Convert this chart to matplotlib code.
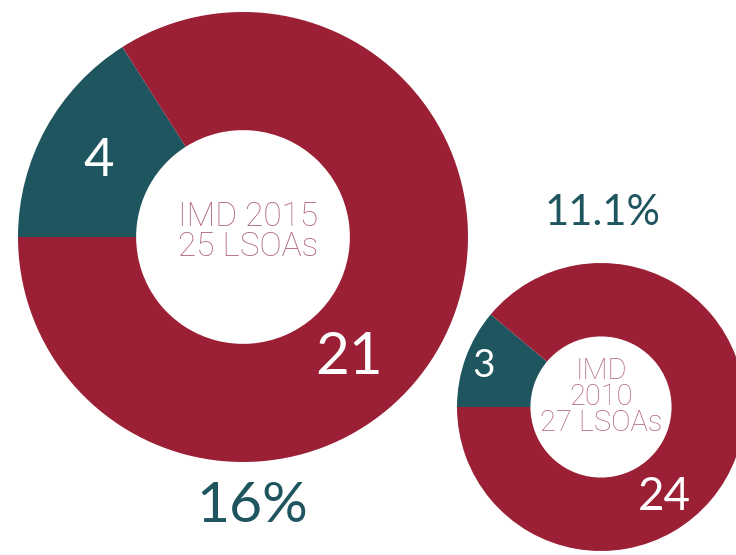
import matplotlib
matplotlib.use('Agg')
import matplotlib.pyplot as plt

# data
groups = ['IMD 2015', 'IMD 2010']
lsoas_2015 = [4, 21]
lsoas_2010 = [3, 24]
centre_2015 = 'IMD 2015\n25 LSOAs'
centre_2010 = 'IMD\n2010\n27 LSOAs'
pct_2015 = '16%'
pct_2010 = '11.1%'

RED = '#9b1f35'
TEAL = '#1f555e'
PINK = '#b06878'

W, H = 736, 555

fig = plt.figure(figsize=(W / 100, H / 100), dpi=100)
ax = fig.add_axes([0, 0, 1, 1])


def py(y):
    # picture rows run downwards, axes upwards
    return H - y


def donut(values, cx, cy, r, hole):
    ax.pie(values, colors=[TEAL, RED], startangle=180, counterclock=False,
           center=(cx, py(cy)), radius=r,
           wedgeprops=dict(width=r * (1 - hole), edgecolor='none', linewidth=0))


donut(lsoas_2015, 243, 237, 225, 0.475)
donut(lsoas_2010, 601, 407, 144, 0.49)

ax.set_xlim(0, W)
ax.set_ylim(0, H)
ax.set_aspect('auto')
ax.axis('off')

num = dict(color='white', ha='center', va='center', family='Lato')
thin = dict(color=PINK, ha='center', va='center', family='Roboto',
            fontweight='light')

# big donut
ax.text(99, py(161), str(lsoas_2015[0]), fontsize=38, **num)
ax.text(349, py(357), str(lsoas_2015[1]), fontsize=42, **num)
ax.text(248, py(232), centre_2015, fontsize=24, linespacing=0.95, **thin)
ax.text(252, py(507), pct_2015, fontsize=41, color=TEAL, ha='center',
        va='center', family='Lato')

# small donut
ax.text(601, py(397), centre_2010, fontsize=21, linespacing=0.92, **thin)
ax.text(484, py(366), str(lsoas_2010[0]), fontsize=28, **num)
ax.text(664, py(497), str(lsoas_2010[1]), fontsize=33, **num)
ax.text(603, py(213), pct_2010, fontsize=30, color=TEAL, ha='center',
        va='center', family='Lato')

fig.savefig('out.png', dpi=100)
